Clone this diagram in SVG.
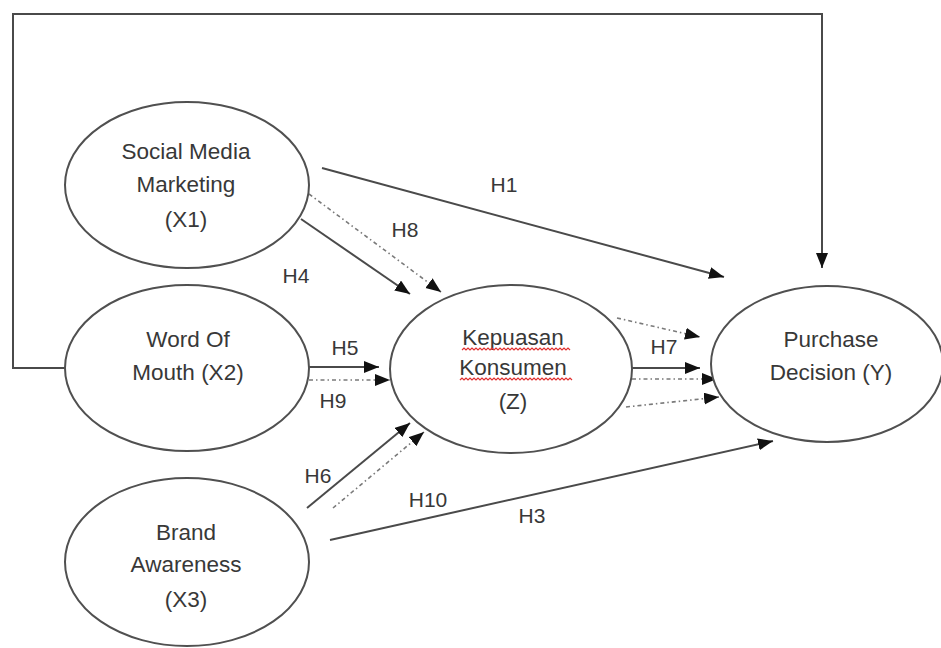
<svg xmlns="http://www.w3.org/2000/svg" width="941" height="648" viewBox="0 0 941 648">
<style>
.node ellipse{fill:#fff;stroke:#505050;stroke-width:2}
.node text{font-family:"Liberation Sans",Arial,sans-serif;font-size:22.5px;fill:#383838;text-anchor:middle}
.lbl{font-family:"Liberation Sans",Arial,sans-serif;font-size:21px;fill:#383838;text-anchor:middle}
.solid{fill:none;stroke:#4a4a4a;stroke-width:2}
.dash{fill:none;stroke:#7a7a7a;stroke-width:1.6;stroke-dasharray:4 3 1.5 3}
.wavy{fill:none;stroke:#e03030;stroke-width:1.2}
</style>
<defs>
<marker id="ah" markerUnits="userSpaceOnUse" markerWidth="16" markerHeight="13" refX="15" refY="6" orient="auto">
<path d="M0,0 L15,6 L0,12 z" fill="#111"/>
</marker>
</defs>
<rect width="941" height="648" fill="#fff"/>
<g id="connectors">
<polyline class="solid" points="65,368 13,368 13,14 822,14 822,268" marker-end="url(#ah)"/>
<line class="solid" x1="322" y1="168" x2="724" y2="277" marker-end="url(#ah)"/>
<line class="dash" x1="309" y1="194" x2="441" y2="292" marker-end="url(#ah)"/>
<line class="solid" x1="301" y1="219" x2="410" y2="294" marker-end="url(#ah)"/>
<line class="solid" x1="309" y1="367" x2="379" y2="367" marker-end="url(#ah)"/>
<line class="dash" x1="309" y1="380" x2="390" y2="380" marker-end="url(#ah)"/>
<line class="solid" x1="307" y1="508" x2="410" y2="423" marker-end="url(#ah)"/>
<line class="dash" x1="333" y1="508" x2="424" y2="432" marker-end="url(#ah)"/>
<line class="solid" x1="330" y1="540" x2="773" y2="441" marker-end="url(#ah)"/>
<line class="dash" x1="617" y1="318" x2="700" y2="337" marker-end="url(#ah)"/>
<line class="solid" x1="632" y1="368" x2="700" y2="368" marker-end="url(#ah)"/>
<line class="dash" x1="632" y1="379" x2="717" y2="379" marker-end="url(#ah)"/>
<line class="dash" x1="626" y1="407" x2="719" y2="397" marker-end="url(#ah)"/>
</g>
<g id="node-x1" class="node">
<ellipse cx="187" cy="185" rx="122" ry="83"/>
<text x="186" y="159">Social Media</text>
<text x="186" y="192">Marketing</text>
<text x="186" y="227">(X1)</text>
</g>
<g id="node-x2" class="node">
<ellipse cx="187" cy="368" rx="122" ry="83"/>
<text x="188" y="347">Word Of</text>
<text x="188" y="380">Mouth (X2)</text>
</g>
<g id="node-x3" class="node">
<ellipse cx="187" cy="562" rx="122" ry="84"/>
<text x="186" y="540">Brand</text>
<text x="186" y="572">Awareness</text>
<text x="186" y="607">(X3)</text>
</g>
<g id="node-z" class="node">
<ellipse cx="511" cy="369" rx="121" ry="84"/>
<text x="513" y="345">Kepuasan</text>
<text x="513" y="375">Konsumen</text>
<text x="513" y="409">(Z)</text>
<path class="wavy" d="M462,350 l2,-2 l2,2 l2,-2 l2,2 l2,-2 l2,2 l2,-2 l2,2 l2,-2 l2,2 l2,-2 l2,2 l2,-2 l2,2 l2,-2 l2,2 l2,-2 l2,2 l2,-2 l2,2 l2,-2 l2,2 l2,-2 l2,2 l2,-2 l2,2 l2,-2 l2,2 l2,-2 l2,2 l2,-2 l2,2 l2,-2 l2,2 l2,-2 l2,2 l2,-2 l2,2 l2,-2 l2,2 l2,-2 l2,2 l2,-2 l2,2 l2,-2 l2,2 l2,-2 l2,2 l2,-2 l2,2 l2,-2 l2,2 l2,-2 l2,2"/>
<path class="wavy" d="M460,380 l2,-2 l2,2 l2,-2 l2,2 l2,-2 l2,2 l2,-2 l2,2 l2,-2 l2,2 l2,-2 l2,2 l2,-2 l2,2 l2,-2 l2,2 l2,-2 l2,2 l2,-2 l2,2 l2,-2 l2,2 l2,-2 l2,2 l2,-2 l2,2 l2,-2 l2,2 l2,-2 l2,2 l2,-2 l2,2 l2,-2 l2,2 l2,-2 l2,2 l2,-2 l2,2 l2,-2 l2,2 l2,-2 l2,2 l2,-2 l2,2 l2,-2 l2,2 l2,-2 l2,2 l2,-2 l2,2 l2,-2 l2,2 l2,-2 l2,2 l2,-2 l2,2"/>
</g>
<g id="node-y" class="node">
<ellipse cx="827" cy="364" rx="116" ry="78"/>
<text x="831" y="347">Purchase</text>
<text x="831" y="380">Decision (Y)</text>
</g>
<g id="labels">
<text class="lbl" x="504" y="192">H1</text>
<text class="lbl" x="405" y="237">H8</text>
<text class="lbl" x="296" y="283">H4</text>
<text class="lbl" x="345" y="355">H5</text>
<text class="lbl" x="333" y="408">H9</text>
<text class="lbl" x="318" y="483">H6</text>
<text class="lbl" x="428" y="507">H10</text>
<text class="lbl" x="532" y="523">H3</text>
<text class="lbl" x="664" y="354">H7</text>
</g>
</svg>
